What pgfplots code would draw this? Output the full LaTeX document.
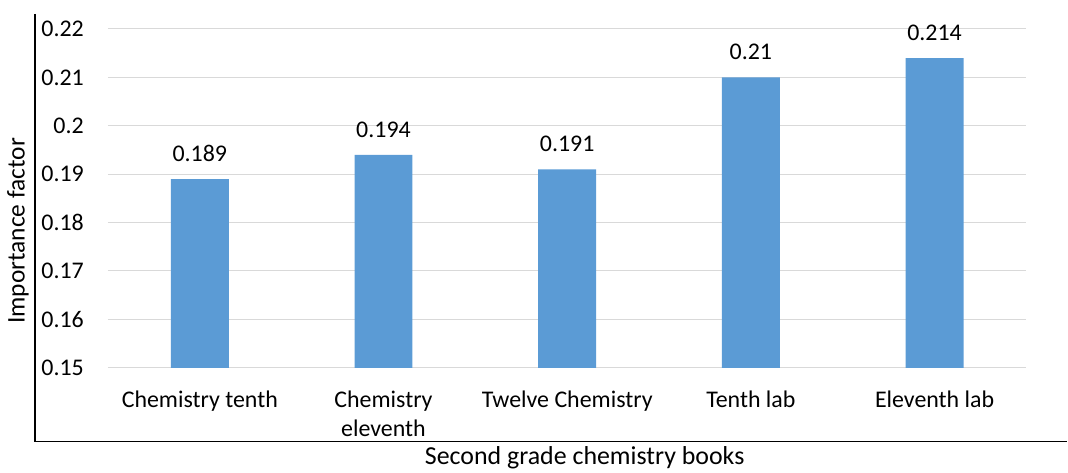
\documentclass[border=0pt]{standalone}
\usepackage{pgfplots}
\pgfplotsset{compat=1.18}
\usepackage{fontspec}
\setmainfont{Carlito}
\definecolor{barblue}{HTML}{5B9BD5}
\definecolor{gridgray}{HTML}{D9D9D9}
\begin{document}
\begin{tikzpicture}[x=1bp,y=1bp]
  \path (0,0) rectangle (1068,470);
  \begin{axis}[
    at={(108bp,102bp)}, anchor=south west,
    scale only axis, width=919bp, height=339bp,
    xmin=-0.5, xmax=4.5, ymin=0.15, ymax=0.22,
    ytick={0.15,0.16,...,0.221},
    xtick=data,
    xticklabels={Chemistry tenth, Chemistry\\eleventh, Twelve Chemistry, Tenth lab, Eleventh lab},
    axis line style={draw=none},
    major tick length=0pt,
    ymajorgrids, grid style={gridgray, line width=1bp},
    font=\fontsize{24}{29}\selectfont,
    /pgf/number format/assume math mode=true,
    yticklabel style={anchor=east, inner sep=0pt, xshift=-24bp,
      /pgf/number format/fixed, /pgf/number format/precision=2},
    xticklabel style={anchor=north, inner sep=0pt, yshift=-23bp, align=center},
    ybar, bar width=58bp,
    nodes near coords,
    nodes near coords style={anchor=south, inner sep=0pt, yshift=17bp,
      /pgf/number format/fixed, /pgf/number format/precision=3},
  ]
    \addplot[fill=barblue, draw=none] coordinates {
      (0,0.189) (1,0.194) (2,0.191) (3,0.21) (4,0.214)
    };
  \end{axis}
  \draw[line width=1.2bp] (35,456) -- (35,28) -- (1068,28);
  \node[rotate=90, font=\fontsize{25.5}{30}\selectfont] at (18,239) {Importance factor};
  \node[font=\fontsize{26}{30}\selectfont] at (585,12) {Second grade chemistry books};
\end{tikzpicture}
\end{document}
